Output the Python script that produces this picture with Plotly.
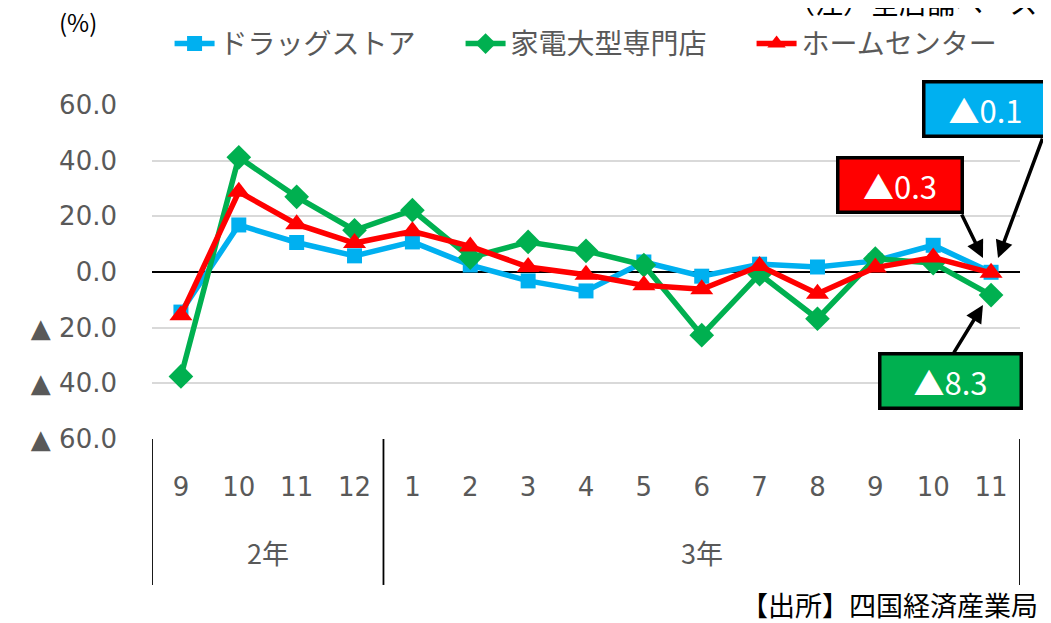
import plotly.graph_objects as go

years = ["2年"] * 4 + ["3年"] * 11
months = ["9", "10", "11", "12", "1", "2", "3", "4", "5", "6", "7", "8", "9", "10", "11"]
keys = [y + m for y, m in zip(years, months)]

drug = [-14.4, 16.9, 10.6, 5.8, 10.8, 2.5, -3.2, -6.8, 3.6, -1.5, 2.8, 1.8, 4.0, 9.6, -0.1]
appliance = [-37.5, 41.2, 27.0, 15.0, 22.2, 5.2, 10.8, 7.6, 2.5, -22.7, -0.8, -16.8, 4.8, 3.2, -8.3]
home = [-15.5, 28.8, 17.2, 10.4, 14.6, 9.2, 1.8, -1.0, -4.8, -6.2, 2.2, -7.8, 1.6, 5.2, -0.3]

series_names = ["ドラッグストア", "家電大型専門店", "ホームセンター"]
colors = ["#00B0F0", "#00B050", "#FF0000"]
symbols = ["square", "diamond", "triangle-up"]
marker_sizes = [15, 19, 20]

ytick_vals = [60, 40, 20, 0, -20, -40, -60]
ytick_text = ["60.0", "40.0", "20.0", "0.0", "▲ 20.0", "▲ 40.0", "▲ 60.0"]

JP = "Noto Sans CJK JP"
NUM = "DejaVu Sans"
GRAY = "#595959"

fig = go.Figure()
for name, vals, c, s, ms in zip(series_names, [drug, appliance, home], colors, symbols, marker_sizes):
    fig.add_trace(go.Scatter(
        x=keys, y=vals, name=name, mode="lines+markers",
        line=dict(color=c, width=5.5),
        marker=dict(symbol=s, size=ms, color=c),
    ))

# year groups under the month labels, with divider lines
groups = {}
for i, y in enumerate(years):
    groups.setdefault(y, []).append(i)
for y, idx in groups.items():
    fig.add_annotation(x=(idx[0] + idx[-1]) / 2, y=-0.341, xref="x", yref="paper",
                       text=y, showarrow=False, xanchor="center", yanchor="middle",
                       font=dict(family=JP, size=27, color=GRAY))
bounds = [-0.5] + [idx[-1] + 0.5 for idx in groups.values()]
for b in bounds:
    fig.add_shape(type="line", xref="x", yref="paper", x0=b, x1=b, y0=0, y1=-0.437,
                  line=dict(color="black", width=1.8))

# callout boxes
boxes = [
    ("▲0.1", "#00B0F0", 13.9, 58.6, 114),
    ("▲0.3", "#FF0000", 12.43, 31.3, 115),
    ("▲8.3", "#00B050", 13.3, -39.2, 132),
]
for txt, bg, bx, by, bw in boxes:
    fig.add_annotation(x=bx, y=by, xref="x", yref="y", text=txt, showarrow=False,
                       xanchor="center", yanchor="middle",
                       font=dict(family=JP, size=31, color="white"),
                       bgcolor=bg, bordercolor="black", borderwidth=3.5, borderpad=3,
                       width=bw)

# arrows from boxes to the last points
arrows = [(14.12, 5.0, 45, -121), (13.86, 5.0, -22, -45), (13.86, -11.9, -30, 49)]
for tx, ty, ax, ay in arrows:
    fig.add_annotation(x=tx, y=ty, xref="x", yref="y", text="", showarrow=True,
                       ax=ax, ay=ay, arrowhead=2, arrowsize=1, arrowwidth=3.5,
                       arrowcolor="black")

fig.add_annotation(x=-0.085, y=1.249, xref="paper", yref="paper", text="(%)",
                   showarrow=False, xanchor="center", yanchor="middle",
                   font=dict(family=JP, size=24, color="black"))
fig.add_annotation(x=1.023, y=1.308, xref="paper", yref="paper", xanchor="right",
                   yanchor="middle", text="（注）全店舗ベース", showarrow=False,
                   font=dict(family=JP, size=28, color="black"))
fig.add_annotation(x=1.023, y=-0.497, xref="paper", yref="paper", xanchor="right",
                   yanchor="middle", text="【出所】四国経済産業局", showarrow=False,
                   font=dict(family=JP, size=27, color="black"))

fig.update_layout(
    width=1051, height=623,
    margin=dict(l=144, r=39, t=97, b=192, autoexpand=False),
    paper_bgcolor="white", plot_bgcolor="white",
    font=dict(family=JP, size=27, color=GRAY),
    showlegend=True,
    legend=dict(orientation="h", x=1.026, y=1.183, xanchor="right", yanchor="middle",
                font=dict(family=JP, size=28, color=GRAY), itemwidth=40,
                entrywidth=236, traceorder="normal"),
    xaxis=dict(type="category", tickvals=keys, ticktext=months, range=[-0.5, 14.5],
               showgrid=False, showline=False, ticks="", ticklabelstandoff=30,
               tickfont=dict(family=NUM, size=26, color=GRAY)),
    yaxis=dict(range=[-60, 60], tickvals=ytick_vals, ticktext=ytick_text,
               showgrid=True, gridcolor="#D9D9D9", gridwidth=2,
               zeroline=True, zerolinecolor="black", zerolinewidth=2,
               showline=False, ticks="", ticklabelstandoff=34,
               tickfont=dict(family=NUM, size=26, color=GRAY)),
)

fig.write_html("out.html")
